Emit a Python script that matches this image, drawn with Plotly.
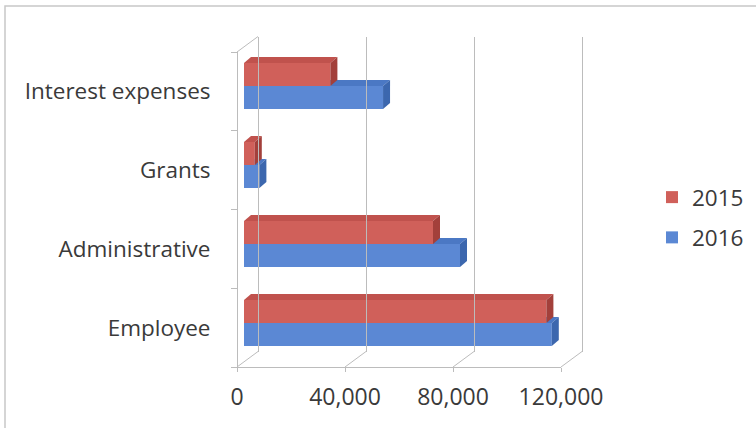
import plotly.graph_objects as go

# ---- data -------------------------------------------------------------
categories = ["Employee", "Administrative", "Grants", "Interest expenses"]
values_2015 = [112000, 70000, 4000, 32000]
values_2016 = [114000, 80000, 5700, 51500]
tick_values = [0, 40000, 80000, 120000]
tick_labels = ["0", "40,000", "80,000", "120,000"]

# ---- page geometry (pixels) ------------------------------------------
W, H = 756, 428
FONT = "Open Sans"
TEXT = "#3A3A3A"
GRID = "#BCBCBC"

RED, RED_TOP, RED_SIDE = "#D0605A", "#C0524D", "#A3403B"
BLUE, BLUE_TOP, BLUE_SIDE = "#5B88D4", "#4B78C4", "#3C67AE"

# front plane (category axis + value axis labels)
FX0, FX1 = 237, 561
FY_TOP, FY_BOT = 52, 367
# back wall (gridlines)
BDX, BDY = 21, -15.5
# plane the bars sit on
BAR_X0 = 244
PX_PER_UNIT = (FX1 - FX0) / 120000
BAR_Y0 = 323          # centre of first category on the bar plane
CAT_STEP = 79         # pixels between category centres
BAR_H = 23            # bar thickness
DEPTH_X, DEPTH_Y = 7, 6   # bar depth offset (right / up)


def px(x):
    return x / W


def py(y):
    return 1 - y / H


# main (bar plane) axes span a wider region so extruded faces stay inside
MX0, MX1 = 222, 605
MY0, MY1 = 28, 382
x_range = [(MX0 - BAR_X0) / PX_PER_UNIT, (MX1 - BAR_X0) / PX_PER_UNIT]
y_range = [(BAR_Y0 - MY1) / CAT_STEP, (BAR_Y0 - MY0) / CAT_STEP]

w = BAR_H / CAT_STEP
dxd = DEPTH_X / PX_PER_UNIT
dyd = DEPTH_Y / CAT_STEP
pos = list(range(len(categories)))

fig = go.Figure()

# front faces of the bars
fig.add_trace(go.Bar(
    name="2015", orientation="h", x=values_2015, y=pos, base=0,
    width=w, offset=0, marker=dict(color=RED, line=dict(width=0)),
    legendgroup="a", legendrank=1, hoverinfo="skip",
))
fig.add_trace(go.Bar(
    name="2016", orientation="h", x=values_2016, y=pos, base=0,
    width=w, offset=-w, marker=dict(color=BLUE, line=dict(width=0)),
    legendgroup="b", legendrank=2, hoverinfo="skip",
))


def face(xs, ys, color):
    fig.add_trace(go.Scatter(
        x=xs, y=ys, mode="lines", fill="toself", fillcolor=color,
        line=dict(width=0, color=color), showlegend=False, hoverinfo="skip",
    ))


# 2016 extrusion (top face only visible beyond the 2015 bar)
for i, (vb, vr) in enumerate(zip(values_2016, values_2015)):
    c = i
    s = max(vr, dxd)
    if vb > s:
        face([s, vb, vb + dxd, s, s], [c, c, c + dyd, c + dyd, c], BLUE_TOP)
    face([vb, vb + dxd, vb + dxd, vb, vb],
         [c - w, c - w + dyd, c + dyd, c, c - w], BLUE_SIDE)

# 2015 extrusion
for i, vr in enumerate(values_2015):
    lo, hi = i, i + w
    face([0, vr, vr + dxd, dxd, 0], [hi, hi, hi + dyd, hi + dyd, hi], RED_TOP)
    face([vr, vr + dxd, vr + dxd, vr, vr],
         [lo, lo + dyd, hi + dyd, hi, lo], RED_SIDE)

# invisible traces that carry the front and back axes
fig.add_trace(go.Scatter(x=[0] * len(categories), y=categories, xaxis="x2", yaxis="y2",
                         mode="markers", marker=dict(opacity=0), showlegend=False,
                         hoverinfo="skip"))
fig.add_trace(go.Scatter(x=[0], y=[0], xaxis="x3", yaxis="y3", mode="markers",
                         marker=dict(opacity=0), showlegend=False, hoverinfo="skip"))

cat_font = dict(family=FONT, size=22.5, color=TEXT)
tick_font = dict(family=FONT, size=23, color=TEXT)

# back wall axis: padded range so the end gridlines are drawn
PAD = 2500
bx0 = FX0 + BDX - PAD * PX_PER_UNIT
bx1 = FX1 + BDX + PAD * PX_PER_UNIT

fig.update_layout(
    width=W, height=H,
    margin=dict(l=0, r=0, t=0, b=0, autoexpand=False),
    paper_bgcolor="white", plot_bgcolor="rgba(0,0,0,0)",
    barmode="overlay",
    showlegend=True,
    xaxis=dict(domain=[px(MX0), px(MX1)], range=x_range, visible=False, fixedrange=True),
    yaxis=dict(domain=[py(MY1), py(MY0)], range=y_range, visible=False, fixedrange=True),
    # front value axis (floor edge with labels)
    xaxis2=dict(domain=[px(FX0), px(FX1)], range=[0, 120000], anchor="y2",
                tickmode="array", tickvals=tick_values, ticktext=tick_labels,
                ticks="outside", ticklen=4, tickcolor=GRID, showgrid=False,
                zeroline=False, showline=True, linecolor=GRID, linewidth=1,
                tickfont=tick_font, ticklabelstandoff=5, fixedrange=True),
    # front category axis
    yaxis2=dict(domain=[py(FY_BOT), py(FY_TOP)], anchor="free", position=px(FX0),
                type="category", categoryorder="array", categoryarray=categories,
                range=[-0.5, len(categories) - 0.5], tickson="boundaries",
                ticks="outside", ticklen=6, tickcolor=GRID, showgrid=False,
                showline=True, linecolor=GRID, linewidth=1, tickfont=cat_font,
                ticklabelstandoff=22, fixedrange=True),
    # back wall gridlines
    xaxis3=dict(domain=[px(bx0), px(bx1)], range=[-PAD, 120000 + PAD], anchor="y3",
                tickmode="array", tickvals=tick_values, showticklabels=False,
                showgrid=True, gridcolor=GRID, gridwidth=1, zeroline=False,
                showline=False, ticks="", fixedrange=True),
    yaxis3=dict(domain=[py(FY_BOT + BDY), py(FY_TOP + BDY)], anchor="x3", range=[0, 1],
                visible=False, fixedrange=True),
    legend=dict(x=px(652), y=py(176), xanchor="left", yanchor="top",
                traceorder="grouped", tracegroupgap=8,
                font=dict(family=FONT, size=22.5, color=TEXT),
                bgcolor="rgba(0,0,0,0)"),
)

# depth edges joining the front plane to the back wall
shapes = [dict(type="line", xref="paper", yref="paper",
               x0=px(FX0), y0=py(FY_TOP), x1=px(FX0 + BDX), y1=py(FY_TOP + BDY),
               line=dict(color=GRID, width=1))]
for v in tick_values:
    xf = FX0 + v * PX_PER_UNIT
    shapes.append(dict(type="line", xref="paper", yref="paper",
                       x0=px(xf), y0=py(FY_BOT), x1=px(xf + BDX), y1=py(FY_BOT + BDY),
                       line=dict(color=GRID, width=1)))
# chart area border
shapes.append(dict(type="rect", xref="paper", yref="paper",
                   x0=px(5), y0=py(6), x1=px(W + 10), y1=py(H + 10),
                   line=dict(color="#C8C8C8", width=1.5), fillcolor="rgba(0,0,0,0)",
                   layer="below"))
fig.update_layout(shapes=shapes)

fig.write_html("out.html")
